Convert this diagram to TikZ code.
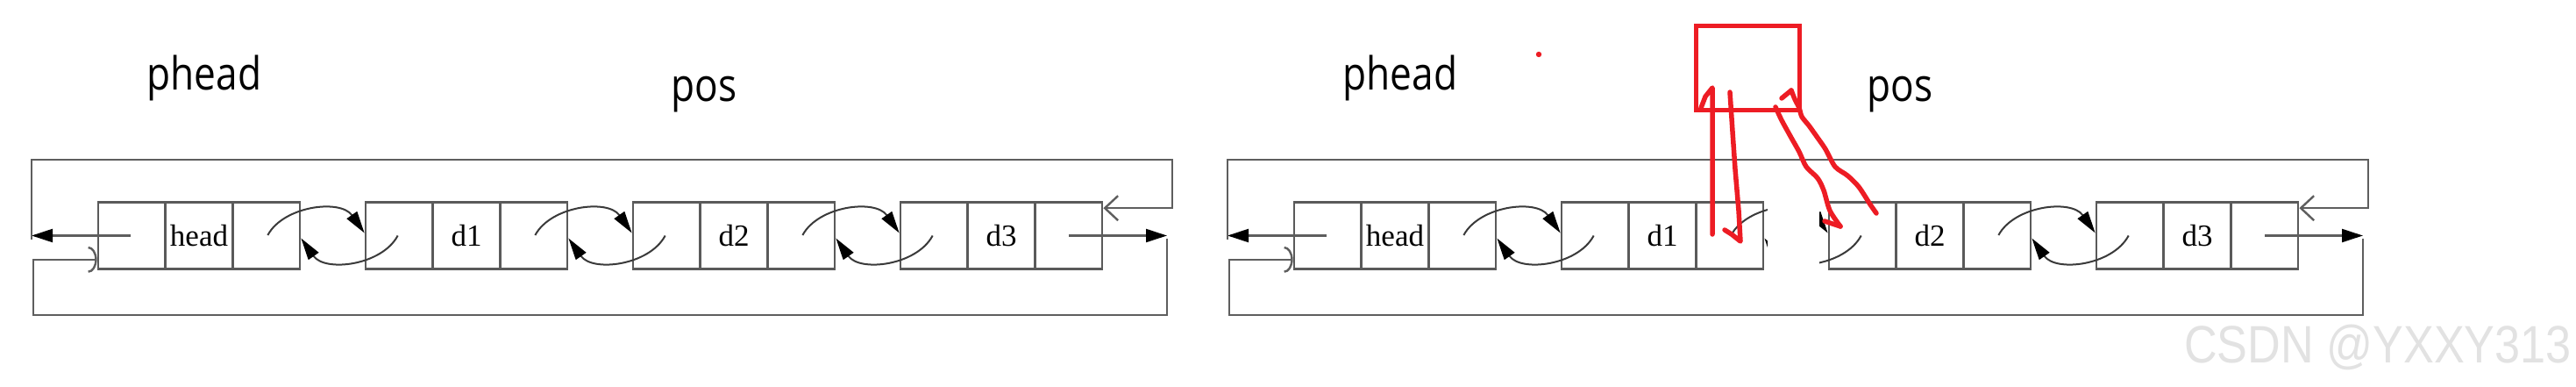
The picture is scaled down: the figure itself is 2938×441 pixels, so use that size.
\documentclass[tikz,border=0pt]{standalone}
\usepackage{fontspec}
\usepackage{graphicx}
\setmainfont{Liberation Serif}
\newfontfamily\labelfont{Open Sans}
\newfontfamily\wmfont{Liberation Sans}
\usetikzlibrary{arrows.meta,calc}

\definecolor{boxgray}{HTML}{5A5A5A}
\definecolor{arcgray}{HTML}{3A3A3A}
\definecolor{loopgray}{HTML}{5E5E5E}
\definecolor{paintred}{HTML}{ED1C24}
\definecolor{wmgray}{HTML}{E2E2E2}

\tikzset{
  elem/.style={rectangle, draw=boxgray, line width=2.7pt, fill=white,
    minimum width=230pt, minimum height=76pt, inner sep=0pt},
  cellline/.style={draw=boxgray, line width=2.7pt},
  datatext/.style={font=\fontsize{35pt}{35pt}\selectfont, inner sep=0pt},
  linkarc/.style={draw=arcgray, line width=2pt,
    -{Triangle[length=25pt,width=14pt,color=black]}},
  tailarrow/.style={draw=loopgray, line width=2.2pt,
    -{Triangle[length=24pt,width=15pt,color=black]}},
  loopline/.style={draw=loopgray, line width=2.4pt},
  ptrlabel/.style={font=\labelfont\fontsize{52pt}{60pt}\selectfont,
    inner sep=0pt, anchor=base},
  redpen/.style={draw=paintred, line width=5.5pt, line cap=round, line join=round},
}

% one list element: name, left x, label
\newcommand\listelem[3]{%
  \node[elem] (#1) at (#2+115,268.5) {};
  \draw[cellline] ($(#1.north west)!1/3!(#1.north east)$) -- ($(#1.south west)!1/3!(#1.south east)$);
  \draw[cellline] ($(#1.north west)!2/3!(#1.north east)$) -- ($(#1.south west)!2/3!(#1.south east)$);
  \node[datatext] (#1t) at (#1) {#3};
}
% the two curved links between neighbours A and B
\newcommand\linkpair[2]{%
  \draw[linkarc] ($(#1.east)+(-38,-0.5)$) .. controls ($(#1.east)+(-20,-34)$) and ($(#1.east)+(45,-42)$) .. ($(#2.west)+(0,-3)$);
  \draw[linkarc] ($(#2.west)+(38,0)$) .. controls ($(#2.west)+(20,34)$) and ($(#2.west)+(-45,42)$) .. ($(#1.east)+(0,3)$);
}
% a whole circular list, names prefixed by #1
\newcommand\drawlist[1]{%
  \node[ptrlabel] (#1phead) at (233,103) {\scalebox{0.85}[1]{phead}};
  \node[ptrlabel] (#1pos) at (803,116) {\scalebox{0.85}[1]{pos}};
  \listelem{#1h}{112}{head}
  \listelem{#11}{417}{d1}
  \listelem{#12}{722}{d2}
  \listelem{#13}{1027}{d3}
  \linkpair{#1h}{#11}
  \linkpair{#11}{#12}
  \linkpair{#12}{#13}
  \coordinate (#1tl) at (36,182);
  \coordinate (#1tr) at (1337,182);
  \coordinate (#1bl) at (38,359);
  \coordinate (#1br) at (1331,359);
  \draw[tailarrow] ($(#1h.west)+(38,0)$) -- (#1h.west -| #1tl);
  \draw[loopline, -{Straight Barb[length=15pt,width=28pt]}]
    ($(#1h.west -| #1tl)+(0,4)$) -- (#1tl) -- (#1tr) |- ($(#13.north east)+(0,8)$);
  \draw[tailarrow] ($(#13.east)+(-39,0)$) -- (#13.east -| #1br);
  \draw[loopline, -{Arc Barb[length=10pt,width=30pt]}]
    ($(#13.east -| #1br)+(0,3)$) -- (#1br) -- (#1bl) |- ($(#1h.south west)+(0,-12)$);
}

\begin{document}
\begin{tikzpicture}[x=1pt,y=-1pt]
\useasboundingbox (0,0) rectangle (2938,441);
\fill[white] (0,0) rectangle (2938,441);

\drawlist{L}
\begin{scope}[xshift=1364pt]
  \drawlist{R}
\end{scope}

% erased gap between d1 and d2 in the right list
\fill[white] (2016,224) rectangle (2075,313);

% red hand-drawn pos node and pointers
\fill[paintred] (1755,62) circle (3.2);
\node[rectangle, draw=paintred, line width=5pt, minimum width=118pt,
  minimum height=96pt, inner sep=0pt] (redbox) at (1993.5,77.5) {};
\draw[redpen] (1953,267) -- (1953,100) -- (1945,110) -- (1940,123);
\draw[redpen] (1973,105) -- (1976,150) -- (1979,193) -- (1983,240) -- (1985,275) -- (1975,267) -- (1967,262);
\draw[redpen] plot[smooth] coordinates {(2025,122) (2032,137) (2043,157) (2052,173) (2060,190) (2073,203) (2080,217) (2087,240) (2099,258)};
\draw[redpen] (2099,258) -- (2081,252);
\draw[redpen] plot[smooth] coordinates {(2140,243) (2133,233) (2120,213) (2107,200) (2093,190) (2082,170) (2073,157) (2063,143) (2055,133) (2052,123) (2047,113) (2043,103)};
\draw[redpen] (2043,103) -- (2032,112);

% watermark
\node[font=\wmfont\fontsize{60pt}{60pt}\selectfont, text=wmgray, anchor=base east,
  inner sep=0pt] (wm) at (2933,413) {\scalebox{0.87}[1]{CSDN @YXXY313}};
\end{tikzpicture}
\end{document}
